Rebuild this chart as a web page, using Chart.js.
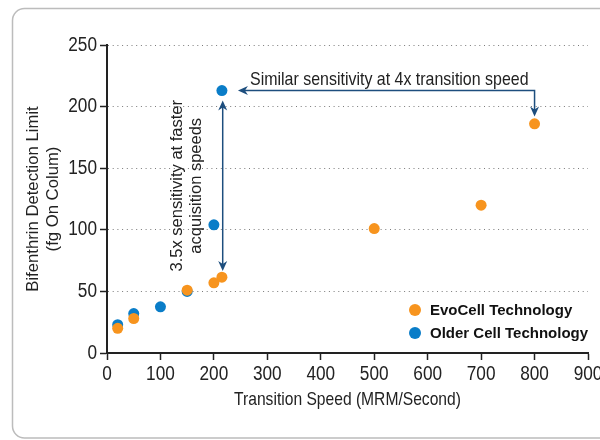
<!DOCTYPE html>
<html>
<head>
<meta charset="utf-8">
<script src="https://cdn.jsdelivr.net/npm/chart.js@4"></script>
<style>
  html, body { margin: 0; padding: 0; background: #fff; }
  #wrap { width: 600px; height: 440px; }
</style>
</head>
<body>
<div id="wrap"><canvas id="chart" width="600" height="440"></canvas></div>
<script>
// data
const evoSpeed = [20, 50, 150, 200, 215, 500, 700, 800];
const evoLimit = [20, 28, 51, 57, 61.5, 101, 120, 186];
const olderSpeed = [20, 50, 100, 150, 200, 215];
const olderLimit = [23, 32, 37.5, 50, 104, 213];
const seriesNames = ['EvoCell Technology', 'Older Cell Technology'];
const xTicks = [0, 100, 200, 300, 400, 500, 600, 700, 800, 900];
const yTicks = [0, 50, 100, 150, 200, 250];

// annotation anchors in data units
const noteTop = ['Similar sensitivity at 4x transition speed'];
const noteSide = ['3.5x sensitivity at faster', 'acquisition speeds'];
const hArrow = { y: 213, xFrom: 800, xTo: 245, yDown: 192 };
const vArrow = { x: 216.5, yTop: 205, yBottom: 66.5 };

const ORANGE = '#F7941E';
const BLUE = '#0A7DC8';
const ARROW = '#1D4E7E';
const INK = '#222';
// text in NARROW gets squeezed sideways (no condensed face installed), PLAIN is drawn as is
const NARROW = '"Liberation Sans"';
const PLAIN = '"Liberation Sans", Arial, sans-serif';
const SQUEEZE = 0.84;

const narrowTextPlugin = {
  id: 'narrowText',
  beforeInit: (chart) => {
    const ctx = chart.ctx;
    const fill = ctx.fillText.bind(ctx);
    ctx.fillText = (text, x, y) => {
      if (ctx.font.includes('sans-serif')) return fill(text, x, y);
      ctx.save();
      ctx.translate(x, y);
      ctx.scale(SQUEEZE, 1);
      fill(text, 0, 0);
      ctx.restore();
    };
  }
};

function arrowHead(ctx, x, y, angle) {
  // stealth style head, tip at x,y
  ctx.save();
  ctx.translate(x, y);
  ctx.rotate(angle);
  ctx.beginPath();
  ctx.moveTo(0, 0);
  ctx.lineTo(-10, -4.5);
  ctx.lineTo(-7, 0);
  ctx.lineTo(-10, 4.5);
  ctx.closePath();
  ctx.fill();
  ctx.restore();
}

const framePlugin = {
  id: 'frame',
  beforeDraw: (chart) => {
    const { ctx } = chart;
    ctx.save();
    ctx.fillStyle = '#fff';
    ctx.fillRect(0, 0, chart.width, chart.height);
    ctx.strokeStyle = '#bcbcbc';
    ctx.lineWidth = 1.5;
    ctx.beginPath();
    ctx.roundRect(12.5, 8.5, 700, 429.5, 12);
    ctx.stroke();
    ctx.restore();
  }
};

const notesPlugin = {
  id: 'notes',
  afterDatasetsDraw: (chart) => {
    const { ctx, scales } = chart;
    const xs = scales.x, ys = scales.y;
    ctx.save();
    ctx.strokeStyle = ARROW;
    ctx.fillStyle = ARROW;
    ctx.lineWidth = 1.5;

    // horizontal arrow with drop to the 800 point
    const hy = ys.getPixelForValue(hArrow.y);
    const hx1 = xs.getPixelForValue(hArrow.xFrom);
    const hx2 = xs.getPixelForValue(hArrow.xTo);
    const hyd = ys.getPixelForValue(hArrow.yDown);
    ctx.beginPath();
    ctx.moveTo(hx2 + 6, hy);
    ctx.lineTo(hx1, hy);
    ctx.lineTo(hx1, hyd - 6);
    ctx.stroke();
    arrowHead(ctx, hx2, hy, Math.PI);
    arrowHead(ctx, hx1, hyd, Math.PI / 2);

    // vertical double arrow
    const vx = xs.getPixelForValue(vArrow.x);
    const vy1 = ys.getPixelForValue(vArrow.yTop);
    const vy2 = ys.getPixelForValue(vArrow.yBottom);
    ctx.beginPath();
    ctx.moveTo(vx, vy1 + 6);
    ctx.lineTo(vx, vy2 - 6);
    ctx.stroke();
    arrowHead(ctx, vx, vy1, -Math.PI / 2);
    arrowHead(ctx, vx, vy2, Math.PI / 2);

    // texts
    ctx.fillStyle = INK;
    ctx.font = '19px ' + NARROW;
    ctx.textAlign = 'left';
    ctx.textBaseline = 'alphabetic';
    ctx.fillText(noteTop[0], 250, hy - 6);

    ctx.font = '16.5px ' + PLAIN;
    ctx.translate(vx - 35, (vy1 + vy2) / 2);
    ctx.rotate(-Math.PI / 2);
    ctx.textAlign = 'center';
    ctx.textBaseline = 'middle';
    noteSide.forEach((line, i) => ctx.fillText(line, 0, -10 + i * 19));
    ctx.restore();
  }
};

const legendPlugin = {
  id: 'cornerLegend',
  afterDraw: (chart) => {
    const { ctx, chartArea } = chart;
    ctx.save();
    chart.data.datasets.forEach((ds, i) => {
      const cx = chartArea.right - 173;
      const cy = chartArea.bottom - 43 + i * 23;
      ctx.fillStyle = ds.backgroundColor;
      ctx.beginPath();
      ctx.arc(cx, cy, 6, 0, Math.PI * 2);
      ctx.fill();
      ctx.fillStyle = '#111';
      ctx.font = 'bold 15px ' + PLAIN;
      ctx.textAlign = 'left';
      ctx.textBaseline = 'middle';
      ctx.fillText(ds.label, cx + 15, cy + 1);
    });
    ctx.restore();
  }
};

new Chart(document.getElementById('chart'), {
  type: 'scatter',
  plugins: [narrowTextPlugin, framePlugin, notesPlugin, legendPlugin],
  data: {
    datasets: [
      {
        label: seriesNames[0],
        data: evoSpeed.map((x, i) => ({ x, y: evoLimit[i] })),
        backgroundColor: ORANGE,
        borderColor: ORANGE,
        pointRadius: 5.5,
        borderWidth: 0
      },
      {
        label: seriesNames[1],
        data: olderSpeed.map((x, i) => ({ x, y: olderLimit[i] })),
        backgroundColor: BLUE,
        borderColor: BLUE,
        pointRadius: 5.5,
        borderWidth: 0
      }
    ]
  },
  options: {
    responsive: false,
    animation: false,
    layout: { padding: { top: 45, right: 12, left: 0, bottom: 0 } },
    plugins: {
      legend: { display: false },
      tooltip: { enabled: false }
    },
    scales: {
      x: {
        type: 'linear',
        min: xTicks[0],
        max: xTicks[xTicks.length - 1],
        afterBuildTicks: (s) => { s.ticks = xTicks.map(v => ({ value: v })); },
        ticks: { color: INK, font: { family: NARROW, size: 20.5 }, padding: 2, maxRotation: 0 },
        grid: { drawOnChartArea: false, tickLength: 7, tickColor: INK, tickWidth: 1.5 },
        border: { color: INK, width: 2 },
        title: {
          display: true,
          text: 'Transition Speed (MRM/Second)',
          color: INK,
          font: { family: NARROW, size: 18.6, lineHeight: 1.2 },
          padding: { bottom: 29, top: 0 }
        },
        afterFit: (s) => { s.height = 87; s.paddingLeft = 0; s.paddingRight = 0; }
      },
      y: {
        min: yTicks[0],
        max: yTicks[yTicks.length - 1],
        afterBuildTicks: (s) => { s.ticks = yTicks.map(v => ({ value: v })); },
        ticks: { color: INK, font: { family: NARROW, size: 20.5 }, padding: 3 },
        grid: { color: '#7a7a7a', lineWidth: 1, tickLength: 7, tickColor: INK, tickWidth: 1.5 },
        border: { color: INK, width: 2, dash: [1, 3.7] },
        title: {
          display: true,
          text: ['Bifenthrin Detection Limit', '(fg On Colum)'],
          color: INK,
          font: { family: PLAIN, size: 16.7, lineHeight: 1.2 },
          padding: { top: 23, bottom: 0 }
        },
        afterFit: (s) => { s.width = 107; s.paddingTop = 0; s.paddingBottom = 0; }
      }
    }
  }
});
</script>
</body>
</html>
